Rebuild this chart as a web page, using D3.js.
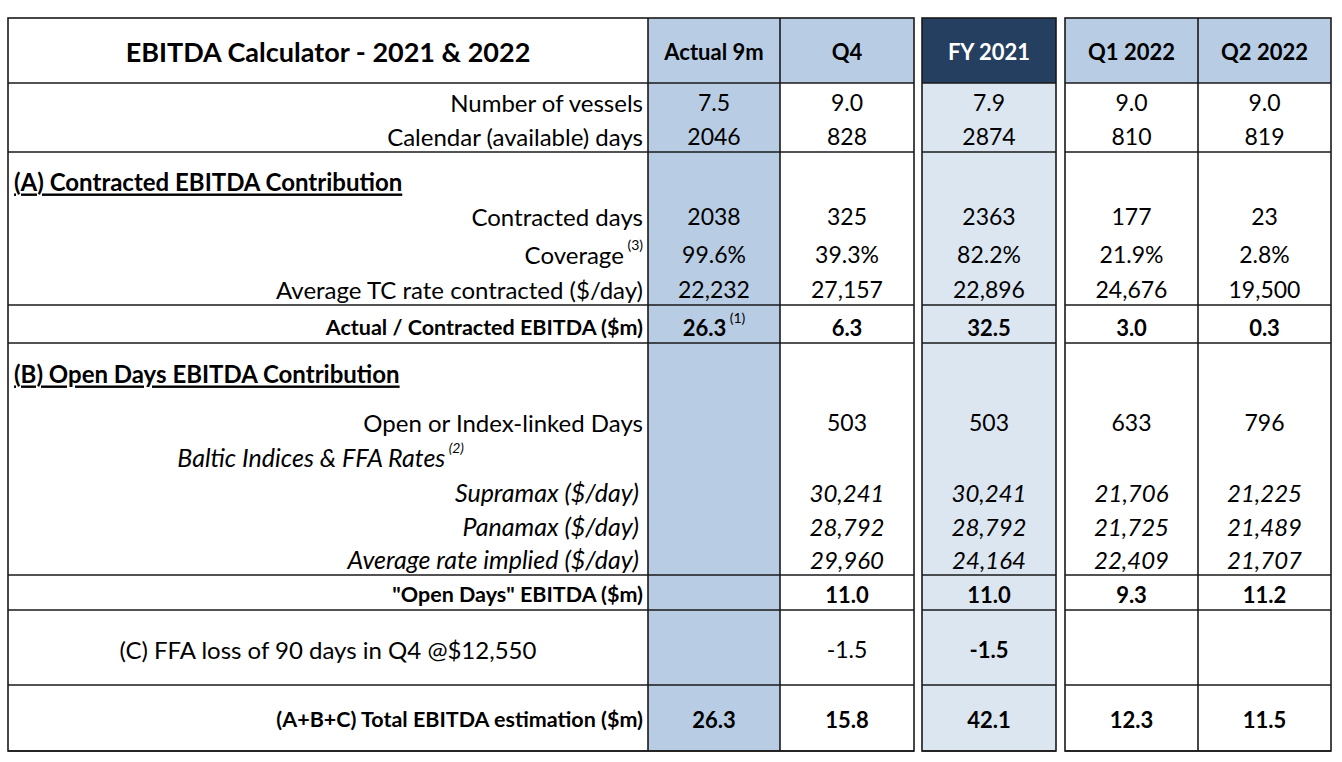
<!DOCTYPE html>
<html>
<head>
<meta charset="utf-8">
<script src="https://cdn.jsdelivr.net/npm/d3@7"></script>
<style>
  html, body { margin: 0; padding: 0; background: #fff; }
  svg text { font-family: Lato, "Open Sans", sans-serif; fill: #000; }
</style>
</head>
<body>
<svg id="chart"></svg>
<script>
const title = 'EBITDA Calculator - 2021 & 2022';
const columns = ['Actual 9m', 'Q4', 'FY 2021', 'Q1 2022', 'Q2 2022'];
const metricLabels = [
  'Number of vessels',
  'Calendar (available) days',
  'Contracted days',
  'Coverage',
  'Average TC rate contracted ($/day)',
  'Actual / Contracted EBITDA ($m)',
  'Open or Index-linked Days',
  'Supramax ($/day)',
  'Panamax ($/day)',
  'Average rate implied ($/day)',
  '"Open Days" EBITDA ($m)',
  '(C) FFA loss of 90 days in Q4 @$12,550',
  '(A+B+C) Total EBITDA estimation ($m)'
];
const sectionLabels = [
  '(A) Contracted EBITDA Contribution',
  '(B) Open Days EBITDA Contribution',
  'Baltic Indices & FFA Rates'
];
const actual9m = [7.5, 2046, 2038, 0.996, 22232, 26.3, null, null, null, null, null, null, 26.3];
const q4       = [9.0, 828, 325, 0.393, 27157, 6.3, 503, 30241, 28792, 29960, 11.0, -1.5, 15.8];
const fy2021   = [7.9, 2874, 2363, 0.822, 22896, 32.5, 503, 30241, 28792, 24164, 11.0, -1.5, 42.1];
const q1_2022  = [9.0, 810, 177, 0.219, 24676, 3.0, 633, 21706, 21725, 22409, 9.3, null, 12.3];
const q2_2022  = [9.0, 819, 23, 0.028, 19500, 0.3, 796, 21225, 21489, 21707, 11.2, null, 11.5];
const valueFormats = ['.1f', 'd', 'd', '.1%', ',', '.1f', 'd', ',', ',', ',', '.1f', '.1f', '.1f'];
const footnotes = { coverage: '(3)', baltic: '(2)', actualEbitda: '(1)' };

const series = [actual9m, q4, fy2021, q1_2022, q2_2022];

// ---- layout ----
const width = 1342, height = 762;
const tableLeft = 8, tableTop = 18;
const labelW = 640;
const colW = [132, 134, 134, 133, 133];
const gapBefore = [0, 0, 8, 9, 0];

// one entry per spreadsheet line
const lines = [
  { kind: 'title', h: 65, rule: true, v: 'middle' },
  { kind: 'metric', m: 0, h: 35 },
  { kind: 'metric', m: 1, h: 34, rule: true },
  { kind: 'section', s: 0, h: 45 },
  { kind: 'metric', m: 2, h: 35 },
  { kind: 'metric', m: 3, h: 38, note: footnotes.coverage },
  { kind: 'metric', m: 4, h: 35, rule: true },
  { kind: 'metric', m: 5, h: 38, rule: true, bold: true },
  { kind: 'section', s: 1, h: 46 },
  { kind: 'metric', m: 6, h: 49 },
  { kind: 'sub', s: 2, h: 35, note: footnotes.baltic },
  { kind: 'metric', m: 7, h: 35, italic: true },
  { kind: 'metric', m: 8, h: 34, italic: true },
  { kind: 'metric', m: 9, h: 33, italic: true, rule: true },
  { kind: 'metric', m: 10, h: 35, rule: true, bold: true },
  { kind: 'metric', m: 11, h: 75, rule: true, v: 'middle', center: true },
  { kind: 'metric', m: 12, h: 66, rule: true, v: 'middle', bold: true }
];

const ends = d3.cumsum(lines, d => d.h);
lines.forEach((d, i) => { d.y1 = tableTop + ends[i]; d.y0 = d.y1 - d.h; });
const tableBottom = lines[lines.length - 1].y1;

// column left edges
const colX = [];
columns.reduce((acc, c, i) => { colX.push(acc + gapBefore[i]); return acc + gapBefore[i] + colW[i]; }, tableLeft + labelW);
const x = d3.scaleOrdinal().domain(columns).range(colX);
const w = d3.scaleOrdinal().domain(columns).range(colW);
const labelRight = tableLeft + labelW - 5;
const labelMid = tableLeft + labelW / 2;

const groups = [
  { x0: tableLeft, x1: x('Q4') + w('Q4'), cols: ['Actual 9m', 'Q4'] },
  { x0: x('FY 2021'), x1: x('FY 2021') + w('FY 2021'), cols: [] },
  { x0: x('Q1 2022'), x1: x('Q2 2022') + w('Q2 2022'), cols: ['Q2 2022'] }
];

const headFill = '#b8cce4', darkFill = '#243f60', paleFill = '#dce6f1';
const locale = d3.formatLocale({ decimal: '.', thousands: ',', grouping: [3], currency: ['$', ''], minus: '-' });

const svg = d3.select('#chart').attr('width', width).attr('height', height);

// ---- fills ----
const head = lines[0];
const fills = svg.append('g').attr('class', 'fills');
fills.append('rect')
  .attr('x', x('Actual 9m')).attr('y', tableTop)
  .attr('width', w('Actual 9m')).attr('height', tableBottom - tableTop)
  .attr('fill', headFill);
fills.append('rect')
  .attr('x', x('FY 2021')).attr('y', head.y1)
  .attr('width', w('FY 2021')).attr('height', tableBottom - head.y1)
  .attr('fill', paleFill);
fills.selectAll('rect.head')
  .data(columns.filter(c => c !== 'Actual 9m'))
  .enter().append('rect')
    .attr('class', 'head')
    .attr('x', c => x(c)).attr('y', tableTop)
    .attr('width', c => w(c)).attr('height', head.h)
    .attr('fill', c => c === 'FY 2021' ? darkFill : headFill);

// ---- rules ----
const rules = svg.append('g').attr('class', 'rules')
  .attr('stroke', '#1a1a1a').attr('stroke-width', 1.6).attr('fill', 'none');
groups.forEach(g => {
  rules.append('rect')
    .attr('x', g.x0).attr('y', tableTop)
    .attr('width', g.x1 - g.x0).attr('height', tableBottom - tableTop);
  lines.filter(d => d.rule).forEach(d => {
    rules.append('line')
      .attr('x1', g.x0).attr('x2', g.x1)
      .attr('y1', d.y1).attr('y2', d.y1);
  });
  g.cols.forEach(c => {
    rules.append('line')
      .attr('x1', x(c)).attr('x2', x(c))
      .attr('y1', tableTop).attr('y2', tableBottom);
  });
});

// ---- text ----
const txt = svg.append('g').attr('class', 'text');
const textY = d => d.v === 'middle' ? (d.y0 + d.y1) / 2 + 1 : d.y1 - 16;

function addNote(sel, note, size) {
  sel.append('tspan')
    .attr('font-size', size).attr('dy', -10)
    .attr('font-weight', 'normal')
    .text('\u00a0' + note);
}

// header row
txt.append('text')
  .attr('x', labelMid).attr('y', textY(head))
  .attr('text-anchor', 'middle').attr('dominant-baseline', 'central')
  .attr('font-size', 27).attr('font-weight', 'bold')
  .text(title);
txt.selectAll('text.col')
  .data(columns)
  .enter().append('text')
    .attr('class', 'col')
    .attr('x', c => x(c) + w(c) / 2).attr('y', textY(head))
    .attr('text-anchor', 'middle').attr('dominant-baseline', 'central')
    .attr('font-size', 22).attr('font-weight', 'bold')
    .style('fill', c => c === 'FY 2021' ? '#fff' : '#000')
    .text(c => c);

lines.slice(1).forEach(d => {
  const y = textY(d);
  if (d.kind === 'section') {
    txt.append('text')
      .attr('x', tableLeft + 6).attr('y', y)
      .attr('dominant-baseline', 'central')
      .attr('font-size', 24).attr('font-weight', 'bold')
      .style('text-decoration', 'underline')
      .text(sectionLabels[d.s]);
    return;
  }
  if (d.kind === 'sub') {
    const t = txt.append('text')
      .attr('x', labelMid + 136).attr('y', y)
      .attr('text-anchor', 'end').attr('dominant-baseline', 'central')
      .attr('font-size', 25).attr('font-style', 'italic');
    t.append('tspan').text(sectionLabels[d.s]);
    addNote(t, d.note, 14);
    return;
  }
  const lbl = txt.append('text')
    .attr('x', d.center ? labelMid : labelRight - (d.italic ? 4 : 0)).attr('y', y)
    .attr('text-anchor', d.center ? 'middle' : 'end')
    .attr('dominant-baseline', 'central')
    .attr('font-size', d.bold ? 21.5 : d.italic ? 25 : 24)
    .attr('font-weight', d.bold ? 'bold' : 'normal')
    .attr('font-style', d.italic ? 'italic' : 'normal');
  lbl.append('tspan').text(metricLabels[d.m]);
  if (d.note) addNote(lbl, d.note, 14);

  const fmt = locale.format(valueFormats[d.m]);
  columns.forEach((c, ci) => {
    const v = series[ci][d.m];
    if (v == null) return;
    const boldCell = d.bold || (d.m === 11 && c === 'FY 2021');
    const t = txt.append('text')
      .attr('x', x(c) + w(c) / 2).attr('y', y)
      .attr('text-anchor', 'middle').attr('dominant-baseline', 'central')
      .attr('font-size', boldCell ? 22 : d.italic ? 24 : 23)
      .attr('font-weight', boldCell ? 'bold' : 'normal')
      .attr('font-style', d.italic ? 'italic' : 'normal');
    t.append('tspan').text(fmt(v));
    if (d.m === 5 && c === 'Actual 9m') addNote(t, footnotes.actualEbitda, 14);
  });
});
</script>
</body>
</html>
